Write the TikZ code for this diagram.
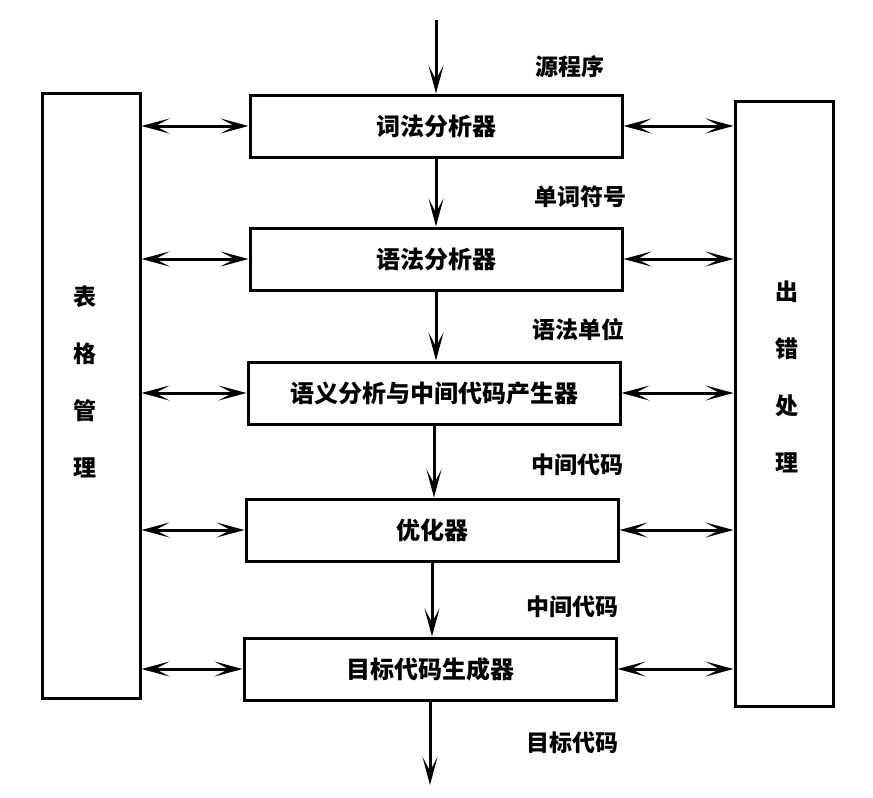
\documentclass[tikz,border=0pt]{standalone}
\usepackage{fontspec}
\setmainfont{Noto Sans CJK SC}
\usetikzlibrary{arrows.meta}
\begin{document}
\begin{tikzpicture}[x=1pt,y=-1pt,
  box/.style={draw,line width=3pt,minimum width=372pt,minimum height=62pt,inner sep=0pt,font=\fontsize{24}{26}\selectfont\bfseries},
  side/.style={draw,line width=3pt,minimum width=98pt,minimum height=605pt,inner sep=0pt},
  vlab/.style={font=\fontsize{23}{57}\selectfont\bfseries,align=center},
  lab/.style={font=\fontsize{23}{25}\selectfont\bfseries},
  tip/.style={Stealth[length=28pt,width=15pt,inset=14pt]},
  flow/.style={line width=3pt,-{Stealth[length=28pt,width=15pt,inset=14pt]}},
  dbl/.style={line width=3pt,{Stealth[length=28pt,width=15pt,inset=14pt]}-{Stealth[length=28pt,width=15pt,inset=14pt]}}]
\useasboundingbox (0,0) rectangle (873,798);
\node[side] (L) at (91,395.5) {};
\node[side] (R) at (784,403.5) {};
\node[vlab] (Lt) at (85,382) {表\\格\\管\\理};
\node[vlab] (Rt) at (787,377) {出\\错\\处\\理};
\node[box] (b1) at (436,126) {词法分析器};
\node[box] (b2) at (436,259) {语法分析器};
\node[box] (b3) at (434,393) {语义分析与中间代码产生器};
\node[box] (b4) at (432,530) {优化器};
\node[box] (b5) at (430,669) {目标代码生成器};
\coordinate (in) at (436,20);
\coordinate (out) at (430,785);
\draw[flow] (in) -- (b1.north);
\draw[flow] (b1.south) -- (b1.south |- b2.north);
\draw[flow] (b2.south) -- (b2.south |- b3.north);
\draw[flow] (b3.south) -- (b3.south |- b4.north);
\draw[flow] (b4.south) -- (b4.south |- b5.north);
\draw[flow] (b5.south) -- (out);
\foreach \b in {b1,b2,b3,b4,b5}{
  \draw[dbl] (\b.west -| L.east) -- (\b.west);
  \draw[dbl] (\b.east) -- (\b.east -| R.west);
}
\node[lab] (t1) at (570,67) {源程序};
\node[lab] (t2) at (580,197) {单词符号};
\node[lab] (t3) at (578,330) {语法单位};
\node[lab] (t4) at (577,465) {中间代码};
\node[lab] (t5) at (572,607) {中间代码};
\node[lab] (t6) at (572,743) {目标代码};
\end{tikzpicture}
\end{document}
